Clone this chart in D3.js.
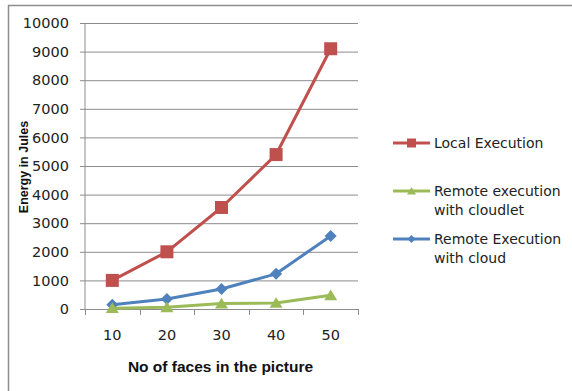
<!DOCTYPE html>
<html><head><meta charset="utf-8">
<script src="https://cdn.jsdelivr.net/npm/d3@7"></script>
<style>body{margin:0;background:#fff}svg{display:block}</style>
</head><body>
<svg id="c" width="572" height="391"></svg>
<script>
const categories = [10, 20, 30, 40, 50];
const localExecution = [1000, 2000, 3550, 5400, 9100];
const remoteCloudlet = [30, 60, 190, 210, 480];
const remoteCloud = [150, 350, 700, 1230, 2555];
const yTicks = [0, 1000, 2000, 3000, 4000, 5000, 6000, 7000, 8000, 9000, 10000];
const seriesNames = ["Local Execution", "Remote execution\nwith cloudlet", "Remote Execution\nwith cloud"];

const svg = d3.select("#c");
const L = 85, R = 358, T = 23, B = 309;
const x = d3.scaleBand().domain(categories).range([L, R]);
const y = d3.scaleLinear().domain([0, 10000]).range([B, T]);

// outer border
svg.append("rect").attr("x", 8.5).attr("y", 5.5).attr("width", 600).attr("height", 500)
  .attr("fill", "none").attr("stroke", "#8c8c8c").attr("stroke-width", 1.5);

// gridlines + y axis
const yAx = svg.append("g").attr("transform", `translate(${L},0)`)
  .call(d3.axisLeft(y).tickValues(yTicks).tickSize(5).tickPadding(11).tickFormat(d3.format("d")));
yAx.select(".domain").attr("stroke", "#8c8c8c").attr("d", `M0,${B}V${T}`);
yAx.selectAll(".tick line").attr("stroke", "#8c8c8c");
yAx.selectAll(".tick text").attr("font-family", "DejaVu Sans").attr("font-size", 14.5).attr("fill", "#222");
svg.append("g").selectAll("line").data(yTicks.filter(d => d > 0)).join("line")
  .attr("x1", L).attr("x2", R).attr("y1", d => y(d) + 0.5).attr("y2", d => y(d) + 0.5)
  .attr("stroke", "#8c8c8c").attr("stroke-width", 1);

// x axis
const xAx = svg.append("g").attr("transform", `translate(0,${B})`)
  .call(d3.axisBottom(x).tickSize(0).tickPadding(21));
xAx.select(".domain").attr("stroke", "#8c8c8c");
xAx.selectAll(".tick text").attr("font-family", "DejaVu Sans").attr("font-size", 14.5).attr("fill", "#222");
const bounds = categories.map(c => x(c)).concat([R]);
svg.append("g").selectAll("line").data(bounds).join("line")
  .attr("x1", d => Math.round(d) + 0.5).attr("x2", d => Math.round(d) + 0.5)
  .attr("y1", B).attr("y2", B + 6).attr("stroke", "#8c8c8c");

// titles
svg.append("text").attr("x", (L + R) / 2 - 1).attr("y", 372).attr("text-anchor", "middle")
  .attr("font-family", "Liberation Sans").attr("font-weight", "bold").attr("font-size", 15.5)
  .attr("fill", "#111").text("No of faces in the picture");
svg.append("text").attr("transform", "translate(28,167) rotate(-90)").attr("text-anchor", "middle")
  .attr("font-family", "Liberation Sans").attr("font-weight", "bold").attr("font-size", 12.5)
  .attr("fill", "#111").text("Energy in Jules");

const cx = d => x(d) + x.bandwidth() / 2;
const series = [
  {name: seriesNames[0], values: localExecution, color: "#C0504D", marker: "square"},
  {name: seriesNames[1], values: remoteCloudlet, color: "#9BBB59", marker: "triangle"},
  {name: seriesNames[2], values: remoteCloud, color: "#4F81BD", marker: "diamond"}
];
function markerPath(type, s) {
  const h = s / 2;
  if (type === "square") return `M${-h},${-h}H${h}V${h}H${-h}Z`;
  if (type === "diamond") return `M0,${-h}L${h},0L0,${h}L${-h},0Z`;
  return `M0,${-h * 0.9}L${h},${h * 0.75}L${-h},${h * 0.75}Z`;
}
const msize = {square: 13, triangle: 13, diamond: 12};
const line = d3.line().x((d, i) => cx(categories[i])).y(d => y(d));
[series[0], series[2], series[1]].forEach(s => {
  svg.append("path").datum(s.values).attr("d", line).attr("fill", "none")
    .attr("stroke", s.color).attr("stroke-width", 3).attr("stroke-linejoin", "round");
  svg.append("g").selectAll("path").data(s.values).join("path")
    .attr("d", markerPath(s.marker, msize[s.marker]))
    .attr("transform", (d, i) => `translate(${cx(categories[i])},${y(d)})`)
    .attr("fill", s.color);
});

// legend
const legY = [143, 191, 239];
const lsize = {square: 9, triangle: 9, diamond: 8};
series.forEach((s, i) => {
  const g = svg.append("g").attr("transform", `translate(0,${legY[i]})`);
  g.append("line").attr("x1", 393).attr("x2", 430).attr("stroke", s.color).attr("stroke-width", 3);
  g.append("path").attr("d", markerPath(s.marker, lsize[s.marker]))
    .attr("transform", `translate(411.5,0)`).attr("fill", s.color);
  const t = g.append("text").attr("x", 434).attr("y", 0).attr("font-family", "DejaVu Sans")
    .attr("font-size", 14).attr("fill", "#222");
  s.name.split("\n").forEach((ln, j) => {
    t.append("tspan").attr("x", 434).attr("dy", j === 0 ? "0.35em" : 19).text(ln);
  });
});
</script>
</body></html>
